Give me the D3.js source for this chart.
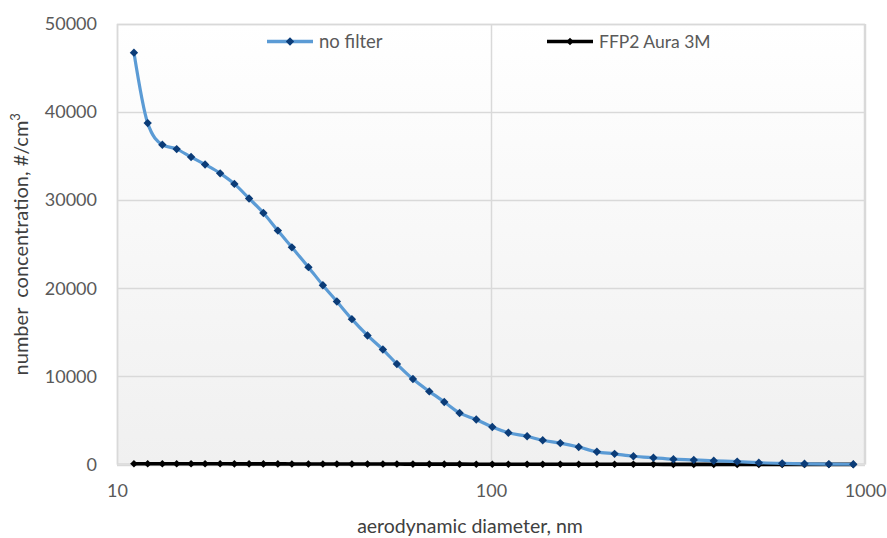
<!DOCTYPE html>
<html>
<head>
<meta charset="utf-8">
<script src="https://cdn.jsdelivr.net/npm/d3@7"></script>
<style>
  html, body { margin: 0; padding: 0; background: #ffffff; }
  svg { display: block; }
  text { font-family: Lato, "Open Sans", sans-serif; }
</style>
</head>
<body>
<svg id="chart" width="887" height="538"></svg>
<script>
// ---- data ----
const diameters = [11.1, 12.08, 13.22, 14.44, 15.78, 17.2, 18.87, 20.6, 22.55, 24.63,
  26.92, 29.35, 32.5, 35.52, 38.72, 42.47, 46.75, 51.4, 56.03, 61.84,
  68.39, 75.0, 82.42, 91.33, 100.8, 111.3, 124.9, 137.5, 153.2, 171.6,
  191.9, 214.0, 240.3, 271.8, 307.4, 348.5, 394.1, 455.3, 520.1, 600.6,
  689.0, 800.6, 930.4];
const noFilter = [46750, 38750, 36300, 35800, 34900, 34050, 33050, 31850, 30200, 28550,
  26550, 24650, 22400, 20350, 18500, 16500, 14650, 13050, 11400, 9700,
  8300, 7100, 5850, 5100, 4250, 3600, 3200, 2750, 2430, 1980,
  1440, 1210, 940, 760, 600, 520, 420, 330, 210, 130,
  80, 45, 25];
const ffp2 = [90, 90, 85, 85, 80, 80, 80, 75, 75, 70,
  70, 65, 65, 60, 60, 55, 55, 50, 50, 45,
  45, 40, 40, 35, 35, 30, 30, 30, 25, 25,
  25, 20, 20, 20, 15, 15, 15, 10, 10, 10,
  10, 10, 10];
const seriesNames = ["no filter", "FFP2 Aura 3M"];
const xTicks = [10, 100, 1000];
const yTicks = [0, 10000, 20000, 30000, 40000, 50000];
const xTitle = "aerodynamic diameter, nm";
const yTitle = "number\u00a0 concentration, #/cm";

// ---- layout ----
const svg = d3.select("#chart");
const L = 117, R = 865, T = 24, B = 464.5;
const x = d3.scaleLog().domain([10, 1000]).range([L, R]);
const y = d3.scaleLinear().domain([0, 50000]).range([B, T]);

// plot background gradient
const defs = svg.append("defs");
const grad = defs.append("linearGradient").attr("id", "bg")
  .attr("x1", 0).attr("y1", 0).attr("x2", 0).attr("y2", 1);
grad.append("stop").attr("offset", "0%").attr("stop-color", "#ffffff");
grad.append("stop").attr("offset", "100%").attr("stop-color", "#f0f0f0");

svg.append("rect").attr("x", L).attr("y", T).attr("width", R - L).attr("height", B - T)
  .attr("fill", "url(#bg)");

// gridlines
const gridColor = "#d9d9d9";
svg.append("g").selectAll("line").data(yTicks).join("line")
  .attr("x1", L).attr("x2", R)
  .attr("y1", d => Math.round(y(d)) + 0.5).attr("y2", d => Math.round(y(d)) + 0.5)
  .attr("stroke", gridColor).attr("stroke-width", 1.5);
svg.append("g").selectAll("line").data(xTicks).join("line")
  .attr("y1", T).attr("y2", B)
  .attr("x1", d => Math.round(x(d)) + 0.5).attr("x2", d => Math.round(x(d)) + 0.5)
  .attr("stroke", gridColor).attr("stroke-width", 1.5);

// plot border
svg.append("rect").attr("x", L + 0.5).attr("y", T + 0.5).attr("width", R - L - 1).attr("height", B - T - 1)
  .attr("fill", "none").attr("stroke", gridColor).attr("stroke-width", 1.5);

// axes (text only, Excel style)
const yAxis = svg.append("g").attr("transform", `translate(${L},0)`)
  .call(d3.axisLeft(y).tickValues(yTicks).tickFormat(d3.format("d")).tickSize(0).tickPadding(20));
const xAxis = svg.append("g").attr("transform", `translate(0,${B})`)
  .call(d3.axisBottom(x).tickValues(xTicks).tickFormat(d3.format("d")).tickSize(0).tickPadding(20));
[xAxis, yAxis].forEach(g => {
  g.select(".domain").remove();
  g.selectAll("text").attr("fill", "#595959").style("font-size", "18px")
    .style("font-family", "Lato, sans-serif");
});

// series
const line = d3.line().x((d, i) => x(diameters[i])).y(d => y(d)).curve(d3.curveMonotoneX);
const diamond = s => `M0,${-s}L${s},0L0,${s}L${-s},0Z`;

// FFP2 (black)
svg.append("path").datum(ffp2).attr("d", line)
  .attr("fill", "none").attr("stroke", "#000000").attr("stroke-width", 3.6);
svg.append("g").selectAll("path").data(ffp2).join("path")
  .attr("transform", (d, i) => `translate(${x(diameters[i])},${y(d)})`)
  .attr("d", diamond(3.8)).attr("fill", "#000000");

// no filter (blue)
svg.append("path").datum(noFilter).attr("d", line)
  .attr("fill", "none").attr("stroke", "#5b9bd5").attr("stroke-width", 3.2)
  .attr("stroke-linejoin", "round");
svg.append("g").selectAll("path").data(noFilter).join("path")
  .attr("transform", (d, i) => `translate(${x(diameters[i])},${y(d)})`)
  .attr("d", diamond(4.2)).attr("fill", "#0b3c78");

// legend
const legend = [
  { name: seriesNames[0], x0: 267, color: "#5b9bd5", mcolor: "#0b3c78", ms: 4.2, fs: 18.5 },
  { name: seriesNames[1], x0: 547, color: "#000000", mcolor: "#000000", ms: 3.8, fs: 17.5 }
];
const lg = svg.append("g").selectAll("g").data(legend).join("g")
  .attr("transform", d => `translate(${d.x0},41.5)`);
lg.append("line").attr("x1", 0).attr("x2", 46).attr("y1", 0).attr("y2", 0)
  .attr("stroke", d => d.color).attr("stroke-width", 3.4);
lg.append("path").attr("transform", "translate(23,0)").attr("d", d => diamond(d.ms))
  .attr("fill", d => d.mcolor);
lg.append("text").attr("x", 52).attr("y", 6).text(d => d.name)
  .attr("fill", "#595959").style("font-size", d => d.fs + "px");

// axis titles
svg.append("text").attr("x", 470).attr("y", 533).attr("text-anchor", "middle")
  .attr("fill", "#404040").style("font-size", "19.5px").text(xTitle);
const yt = svg.append("text").attr("transform", `translate(28,${(T + B) / 2}) rotate(-90)`)
  .attr("text-anchor", "middle").attr("fill", "#404040").style("font-size", "20px");
yt.append("tspan").text(yTitle);
yt.append("tspan").attr("dy", -8).style("font-size", "13px").text("3");
</script>
</body>
</html>
